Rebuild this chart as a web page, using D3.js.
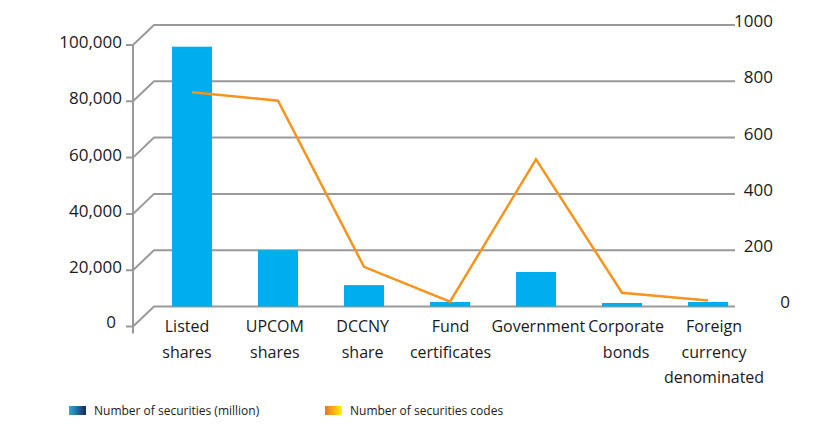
<!DOCTYPE html>
<html>
<head>
<meta charset="utf-8">
<script src="https://cdn.jsdelivr.net/npm/d3@7"></script>
<style>
  html, body { margin: 0; padding: 0; background: #ffffff; }
  svg { display: block; }
  text { font-family: "Open Sans", "Noto Sans", sans-serif; fill: #1a1a1a; }
</style>
</head>
<body>
<svg id="chart" width="814" height="430"></svg>
<script>
// ---- data ----
const categories = ["Listed shares", "UPCOM shares", "DCCNY share", "Fund certificates", "Government", "Corporate bonds", "Foreign currency denominated"];
const categoryLines = [["Listed", "shares"], ["UPCOM", "shares"], ["DCCNY", "share"], ["Fund", "certificates"], ["Government"], ["Corporate", "bonds"], ["Foreign", "currency", "denominated"]];
const securitiesMillion = [92300, 20000, 7600, 1600, 12250, 1250, 1600];
const securitiesCodes = [761, 731, 141, 17, 523, 49, 21];
const leftTicks = [0, 20000, 40000, 60000, 80000, 100000];
const rightTicks = [0, 200, 400, 600, 800, 1000];
const seriesNames = ["Number of securities (million)", "Number of securities codes"];

// ---- layout ----
const svg = d3.select("#chart");
const wallLeft = 154, wallRight = 735;
const yBottom = 306.5, yTop = 25;
const depthX = 21, depthY = 20;
const axisX = wallLeft - depthX;

const x = d3.scaleBand().domain(categories).range([172, 728]).paddingInner(46 / 86).paddingOuter(0);
const xLabel = d3.scalePoint().domain(categories).range([187, 714]);
const yL = d3.scaleLinear().domain([0, 100000]).range([yBottom, yTop]);
const yR = d3.scaleLinear().domain([0, 1000]).range([yBottom, yTop]);

const gridColor = "#999999";

// defs for legend gradients
const defs = svg.append("defs");
const g1 = defs.append("linearGradient").attr("id", "gBlue");
g1.append("stop").attr("offset", "0%").attr("stop-color", "#29abe2");
g1.append("stop").attr("offset", "100%").attr("stop-color", "#1b2858");
const g2 = defs.append("linearGradient").attr("id", "gOrange");
g2.append("stop").attr("offset", "0%").attr("stop-color", "#f37021");
g2.append("stop").attr("offset", "100%").attr("stop-color", "#fff200");

// gridlines with perspective side wall
const grid = svg.append("g");
leftTicks.forEach(t => {
  const yy = yL(t);
  grid.append("path")
    .attr("d", `M${axisX - 7},${yy + depthY} L${axisX},${yy + depthY} L${wallLeft},${yy} L${wallRight},${yy}`)
    .attr("fill", "none").attr("stroke", gridColor).attr("stroke-width", 2);
});
// left vertical axis line
grid.append("line")
  .attr("x1", axisX).attr("x2", axisX)
  .attr("y1", yL(100000) + depthY).attr("y2", yL(0) + depthY + 7)
  .attr("stroke", gridColor).attr("stroke-width", 2);

// left labels
svg.append("g").selectAll("text").data(leftTicks).join("text")
  .attr("x", d => d === 0 ? 116 : 122)
  .attr("y", d => yL(d) + depthY - (d === 0 ? 4.5 : 3))
  .attr("dy", "0.35em")
  .attr("text-anchor", "end")
  .attr("font-size", 17)
  .text(d => d3.format(",")(d));

// right labels
svg.append("g").selectAll("text").data(rightTicks).join("text")
  .attr("x", d => d === 0 ? 790 : 773)
  .attr("y", d => yR(d) - 4)
  .attr("dy", "0.35em")
  .attr("text-anchor", "end")
  .attr("font-size", 17)
  .text(d => d);

// bars
svg.append("g").selectAll("rect").data(categories).join("rect")
  .attr("x", d => x(d))
  .attr("width", x.bandwidth())
  .attr("y", (d, i) => yL(securitiesMillion[i]))
  .attr("height", (d, i) => yL(0) - yL(securitiesMillion[i]))
  .attr("fill", "#00aeef");

// line
const line = d3.line()
  .x((d, i) => x(categories[i]) + x.bandwidth() / 2)
  .y(d => yR(d));
svg.append("path")
  .datum(securitiesCodes)
  .attr("d", line)
  .attr("fill", "none")
  .attr("stroke", "#f7941d")
  .attr("stroke-width", 2.5)
  .attr("stroke-linejoin", "miter");

// category labels
const cat = svg.append("g");
categories.forEach((c, i) => {
  const t = cat.append("text")
    .attr("text-anchor", "middle")
    .attr("font-size", 16)
    .attr("x", xLabel(c))
    .attr("y", 332);
  categoryLines[i].forEach((ln, j) => {
    t.append("tspan").attr("x", xLabel(c)).attr("dy", j === 0 ? 0 : 25.5).text(ln);
  });
});

// legend
const leg = svg.append("g");
const legendItems = [
  { name: seriesNames[0], fill: "url(#gBlue)", x: 69, tx: 94 },
  { name: seriesNames[1], fill: "url(#gOrange)", x: 325, tx: 350 }
];
legendItems.forEach(it => {
  leg.append("rect").attr("x", it.x).attr("y", 406).attr("width", 17).attr("height", 9).attr("fill", it.fill);
  leg.append("text").attr("x", it.tx).attr("y", 411).attr("dy", "0.35em")
    .attr("font-size", 12).text(it.name);
});
</script>
</body>
</html>
